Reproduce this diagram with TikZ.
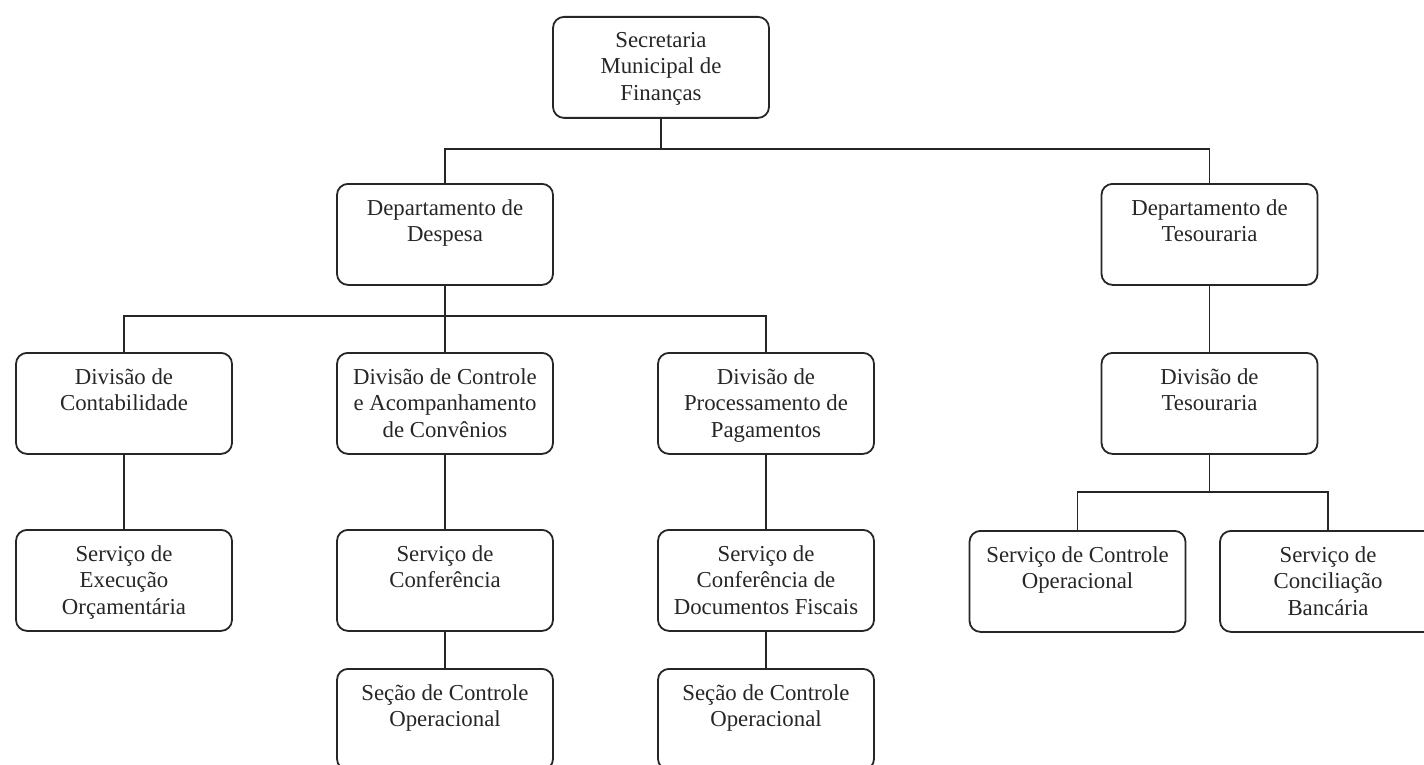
\documentclass[tikz,border=0pt]{standalone}
\usepackage{fontspec}
\setmainfont{Liberation Serif}
\usetikzlibrary{positioning}
\begin{document}
\begin{tikzpicture}[x=1pt,y=-1pt,
  orgbox/.style={draw=black!85,line width=1.8pt,rounded corners=11pt,minimum width=216pt,minimum height=101pt,inner sep=0pt,anchor=north},
  boxtext/.style={align=center,inner sep=0pt,anchor=north,text=black!85,font=\fontsize{22.8}{26.5}\selectfont},
  link/.style={draw=black!85,line width=1.5pt}]
\useasboundingbox (0,0) rectangle (1424,765);
% boxes
\node[orgbox] (sec)    at (661,16) {};
\node[orgbox] (ddesp)  at (445,183) {};
\node[orgbox] (dtes)   at (1209.5,183) {};
\node[orgbox] (dcont)  at (124,352) {};
\node[orgbox] (dconv)  at (445,352) {};
\node[orgbox] (dproc)  at (766,352) {};
\node[orgbox] (dvtes)  at (1209.5,352) {};
\node[orgbox] (sexec)  at (124,529) {};
\node[orgbox] (sconf)  at (445,529) {};
\node[orgbox] (sdoc)   at (766,529) {};
\node[orgbox] (secA)   at (445,668) {};
\node[orgbox] (secB)   at (766,668) {};
\node[orgbox] (sctrl)  at (1077.5,530) {};
\node[orgbox] (sconc)  at (1328,530) {};
% texts
\node[boxtext] (tsec)   at ([yshift=-16pt]sec.north)   {Secretaria\\Municipal de\\Finanças};
\node[boxtext] (tddesp) at ([yshift=-16pt]ddesp.north) {Departamento de\\Despesa};
\node[boxtext] (tdtes)  at ([yshift=-16pt]dtes.north)  {Departamento de\\Tesouraria};
\node[boxtext] (tdcont) at ([yshift=-16pt]dcont.north) {Divisão de\\Contabilidade};
\node[boxtext] (tdconv) at ([yshift=-16pt]dconv.north) {Divisão de Controle\\e Acompanhamento\\de Convênios};
\node[boxtext] (tdproc) at ([yshift=-16pt]dproc.north) {Divisão de\\Processamento de\\Pagamentos};
\node[boxtext] (tdvtes) at ([yshift=-16pt]dvtes.north) {Divisão de\\Tesouraria};
\node[boxtext] (tsexec) at ([yshift=-16pt]sexec.north) {Serviço de\\Execução\\Orçamentária};
\node[boxtext] (tsconf) at ([yshift=-16pt]sconf.north) {Serviço de\\Conferência};
\node[boxtext] (tsdoc)  at ([yshift=-16pt]sdoc.north)  {Serviço de\\Conferência de\\Documentos Fiscais};
\node[boxtext] (tsecA)  at ([yshift=-16pt]secA.north)  {Seção de Controle\\Operacional};
\node[boxtext] (tsecB)  at ([yshift=-16pt]secB.north)  {Seção de Controle\\Operacional};
\node[boxtext] (tsctrl) at ([yshift=-16pt]sctrl.north) {Serviço de Controle\\Operacional};
\node[boxtext] (tsconc) at ([yshift=-16pt]sconc.north) {Serviço de\\Conciliação\\Bancária};
% bus points
\coordinate (b1) at (661,149);
\coordinate (b2) at (445,316);
\coordinate (b3) at (1209.5,492);
% connectors
\draw[link] (sec.south) -- (b1);
\draw[link] (ddesp.north) |- (b1) -| (dtes.north);
\draw[link] (ddesp.south) -- (b2);
\draw[link] (dcont.north) |- (b2) -| (dproc.north);
\draw[link] (b2) -- (dconv.north);
\draw[link] (dtes.south) -- (dvtes.north);
\draw[link] (dcont.south) -- (sexec.north);
\draw[link] (dconv.south) -- (sconf.north);
\draw[link] (dproc.south) -- (sdoc.north);
\draw[link] (sconf.south) -- (secA.north);
\draw[link] (sdoc.south) -- (secB.north);
\draw[link] (dvtes.south) -- (b3);
\draw[link] (sctrl.north) |- (b3) -| (sconc.north);
\end{tikzpicture}
\end{document}
